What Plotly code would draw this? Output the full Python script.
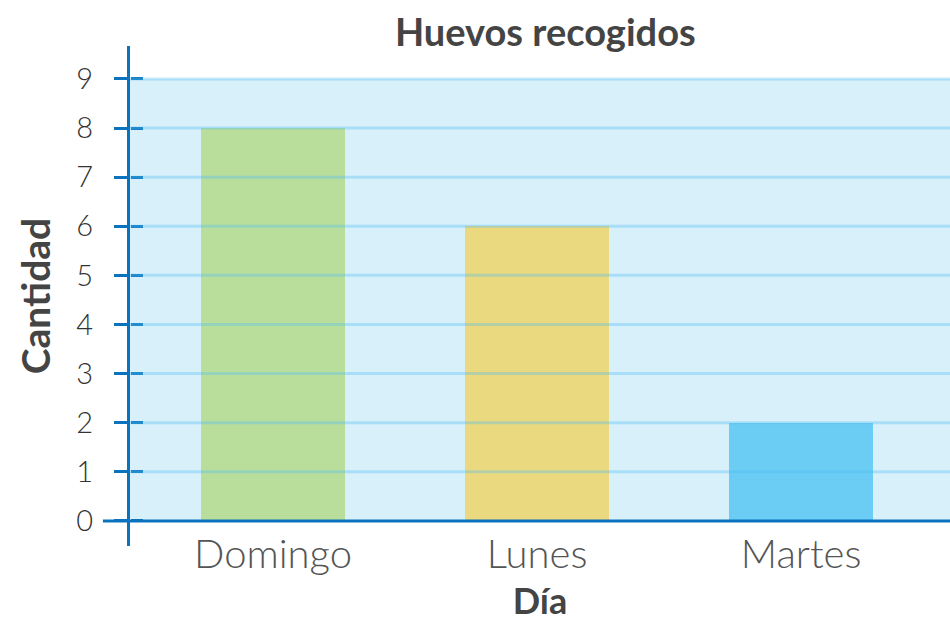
import plotly.graph_objects as go

# Eggs collected per day
dias = ["Domingo", "Lunes", "Martes"]
huevos = [8, 6, 2]
colores = ["#B9DD9B", "#EAD97E", "#6BCDF3"]
valores_eje = [0, 1, 2, 3, 4, 5, 6, 7, 8, 9]

Y_RANGE = [-0.51, 9.67]
X_RANGE = [-0.542, 2.564]
AZUL = "#0B72BD"
TEXTO = "#444444"
FUENTE = "Lato, Noto Sans, sans-serif"

# paper-fraction height of the y = 0 baseline
y0_paper = (0 - Y_RANGE[0]) / (Y_RANGE[1] - Y_RANGE[0])

fig = go.Figure()
fig.add_trace(go.Bar(
    x=dias,
    y=huevos,
    marker=dict(color=colores, line=dict(width=0)),
    width=0.545,
    showlegend=False,
    hoverinfo="x+y",
))

shapes = [
    # light blue panel between 0 and the top tick
    dict(type="rect", xref="paper", yref="y", x0=0, x1=1,
         y0=0, y1=max(valores_eje), fillcolor="#D8F0FA",
         line=dict(width=0), layer="below"),
]
# horizontal guide lines, drawn over the bars
for v in valores_eje[1:]:
    shapes.append(dict(type="line", xref="paper", yref="y", x0=0, x1=1,
                       y0=v, y1=v, line=dict(color="rgba(80,190,240,0.35)", width=3),
                       layer="above"))
# baseline, running a little left of the value axis
shapes.append(dict(type="line", xref="paper", yref="paper", x0=-0.033, x1=1,
                   y0=y0_paper, y1=y0_paper, line=dict(color=AZUL, width=3),
                   layer="above"))

fig.update_layout(
    width=950, height=622,
    margin=dict(l=130, r=0, t=46, b=76),
    paper_bgcolor="white",
    plot_bgcolor="rgba(0,0,0,0)",
    shapes=shapes,
    bargap=0,
    title=dict(text="<b>Huevos recogidos</b>", x=0.574, xref="container",
               xanchor="center", y=0.947, yref="container", yanchor="middle",
               font=dict(family=FUENTE, size=38, color=TEXTO)),
    xaxis=dict(
        range=X_RANGE,
        anchor="free", position=y0_paper,
        showline=False, showgrid=False, zeroline=False,
        ticks="", ticklabelstandoff=6,
        tickfont=dict(family=FUENTE, size=40, color="#555555", weight=300),
        title=dict(text="<b>Día</b>", standoff=19,
                   font=dict(family=FUENTE, size=36, color=TEXTO)),
    ),
    yaxis=dict(
        range=Y_RANGE,
        tickvals=valores_eje,
        showline=True, linecolor=AZUL, linewidth=3,
        ticks="outside", ticklen=13, tickwidth=3, tickcolor=AZUL,
        showgrid=False, zeroline=False,
        ticklabelstandoff=15,
        tickfont=dict(family=FUENTE, size=29, color="#333333", weight=300),
        layer="above traces",
        title=dict(text="<b>Cantidad</b>", standoff=14,
                   font=dict(family=FUENTE, size=39, color=TEXTO)),
    ),
    # inner half of the crossing tick marks
    yaxis2=dict(
        range=Y_RANGE, tickvals=valores_eje, overlaying="y",
        anchor="free", position=0, side="left",
        ticks="inside", ticklen=12, tickwidth=3, tickcolor=AZUL,
        showticklabels=False, showline=False, showgrid=False, zeroline=False,
        layer="above traces",
    ),
)

# invisible trace so the second value axis is rendered
fig.add_trace(go.Scatter(x=[dias[0]], y=[0], yaxis="y2", mode="markers",
                         marker=dict(opacity=0), showlegend=False, hoverinfo="skip"))

fig.write_html("out.html")
